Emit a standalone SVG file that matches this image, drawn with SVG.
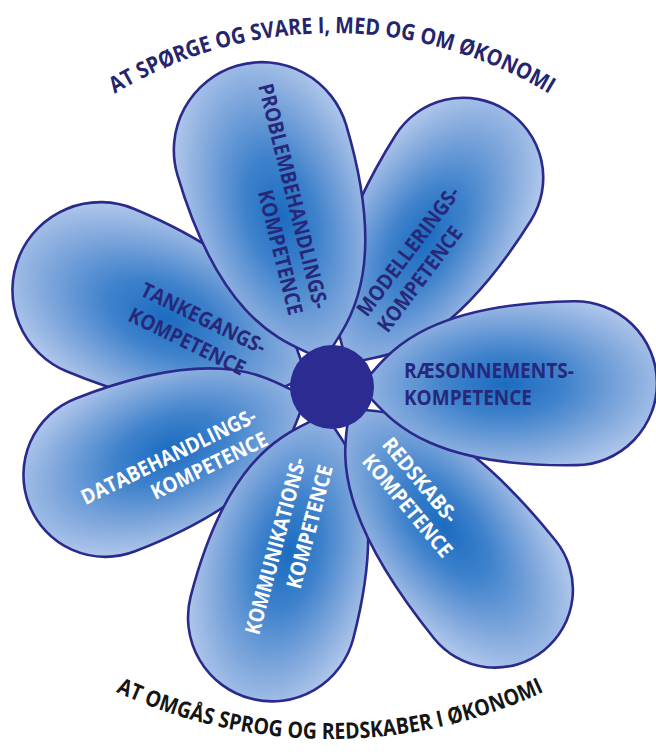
<svg xmlns="http://www.w3.org/2000/svg" width="656" height="752" viewBox="0 0 656 752">
<style>
.petal{fill:url(#pg);stroke:#2a2a8c;stroke-width:2.6;stroke-linejoin:round}
.lbl{font-family:"Open Sans","DejaVu Sans",sans-serif;font-weight:700;font-size:21px}
.dk{fill:#28287a}
.wt{fill:#ffffff}
.arc{font-family:"Open Sans","DejaVu Sans",sans-serif;font-weight:700;font-size:22.5px}
</style>
<defs>
<radialGradient id="pg" cx="0.5" cy="0.5" r="0.55" fx="0.5" fy="0.5">
<stop offset="0" stop-color="#1b6cc0"/>
<stop offset="0.35" stop-color="#3f82cc"/>
<stop offset="0.75" stop-color="#84aadd"/>
<stop offset="1" stop-color="#abc4ea"/>
</radialGradient>
<path id="topArc" d="M -61.7 308.7 A 419 419 0 0 1 725.7 308.7"/>
<path id="botArc" d="M -59.2 557.5 A 508 508 0 0 0 719.2 557.5"/>
</defs>
<rect width="656" height="752" fill="#ffffff"/>
<g id="petals">
<g id="petal-tankegang"><path class="petal" transform="translate(332 387) rotate(-157.3) translate(22 0)" d="M0,0 C25,-2 33,-88 229,-88 A88,88 0 0 1 229,88 C33,88 25,2 0,0Z"/></g>
<g id="petal-modellering"><path class="petal" transform="translate(332 387) rotate(-57.9) translate(22 0)" d="M0,0 C25,-2 30,-80 225,-80 A80,80 0 0 1 225,80 C30,80 25,2 0,0Z"/></g>
<g id="petal-databehandling"><path class="petal" transform="translate(332 387) rotate(158.8) translate(22 0)" d="M0,0 C25,-2 30,-82 221,-82 A82,82 0 0 1 221,82 C30,82 25,2 0,0Z"/></g>
<g id="petal-kommunikation"><path class="petal" transform="translate(332 387) rotate(104.6) translate(22 0)" d="M0,0 C25,-2 31,-84 216,-84 A84,84 0 0 1 216,84 C31,84 25,2 0,0Z"/></g>
<g id="petal-redskab"><path class="petal" transform="translate(332 387) rotate(51.2) translate(22 0)" d="M0,0 C25,-2 29,-78 238,-78 A78,78 0 0 1 238,78 C29,78 25,2 0,0Z"/></g>
<g id="petal-raesonnement"><path class="petal" transform="translate(332 387) rotate(-0.9) translate(22 0)" d="M0,0 C25,-2 30,-82 221,-82 A82,82 0 0 1 221,82 C30,82 25,2 0,0Z"/></g>
<g id="petal-problembehandling"><path class="petal" transform="translate(332 387) rotate(-106.5) translate(22 0)" d="M0,0 C25,-2 33,-88 225,-88 A88,88 0 0 1 225,88 C33,88 25,2 0,0Z"/></g>
</g>
<g id="center"><circle cx="332" cy="387" r="42" fill="#2b2b92"/></g>
<g id="labels">
<g id="label-problembehandling" class="lbl dk" transform="translate(314 310) rotate(76)" text-anchor="end"><text x="0" y="0" textLength="231" lengthAdjust="spacingAndGlyphs">PROBLEMBEHANDLINGS-</text><text x="0" y="26" textLength="128" lengthAdjust="spacingAndGlyphs">KOMPETENCE</text></g>
<g id="label-modellering" class="lbl dk" transform="translate(367 318) rotate(-53)"><text x="0" y="0" textLength="156" lengthAdjust="spacingAndGlyphs">MODELLERINGS-</text><text x="0" y="26" textLength="126" lengthAdjust="spacingAndGlyphs">KOMPETENCE</text></g>
<g id="label-raesonnement" class="lbl dk" transform="translate(404 378)"><text x="0" y="0" textLength="170" lengthAdjust="spacingAndGlyphs">RÆSONNEMENTS-</text><text x="0" y="27" textLength="128" lengthAdjust="spacingAndGlyphs">KOMPETENCE</text></g>
<g id="label-redskab" class="lbl wt" transform="translate(381 445) rotate(50)"><text x="0" y="0" textLength="104" lengthAdjust="spacingAndGlyphs">REDSKABS-</text><text x="0" y="26" textLength="127" lengthAdjust="spacingAndGlyphs">KOMPETENCE</text></g>
<g id="label-kommunikation" class="lbl wt" transform="translate(306 460) rotate(-75)" text-anchor="end"><text x="0" y="0" textLength="182" lengthAdjust="spacingAndGlyphs">KOMMUNIKATIONS-</text><text x="0" y="28" textLength="127" lengthAdjust="spacingAndGlyphs">KOMPETENCE</text></g>
<g id="label-databehandling" class="lbl wt" transform="translate(258 421) rotate(-26)" text-anchor="end"><text x="0" y="0" textLength="192" lengthAdjust="spacingAndGlyphs">DATABEHANDLINGS-</text><text x="0" y="26" textLength="127" lengthAdjust="spacingAndGlyphs">KOMPETENCE</text></g>
<g id="label-tankegang" class="lbl dk" transform="translate(139 295) rotate(26)"><text x="0" y="0" textLength="136" lengthAdjust="spacingAndGlyphs">TANKEGANGS-</text><text x="0" y="28" textLength="127" lengthAdjust="spacingAndGlyphs">KOMPETENCE</text></g>
</g>
<g id="arc-texts">
<text class="arc" fill="#25256e"><textPath href="#topArc" startOffset="50%" text-anchor="middle" textLength="457" lengthAdjust="spacingAndGlyphs">AT SPØRGE OG SVARE I, MED OG OM ØKONOMI</textPath></text>
<text class="arc" fill="#151515"><textPath href="#botArc" startOffset="50%" text-anchor="middle" textLength="442" lengthAdjust="spacingAndGlyphs">AT OMGÅS SPROG OG REDSKABER I ØKONOMI</textPath></text>
</g>
</svg>
